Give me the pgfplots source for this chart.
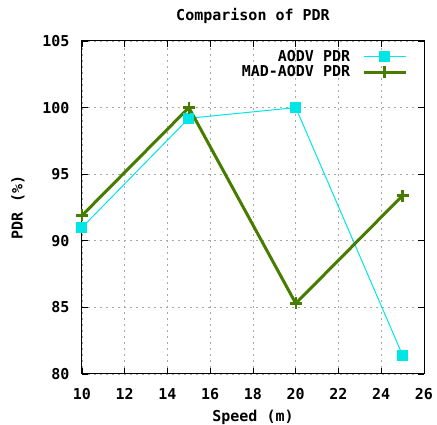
\documentclass[border=0pt]{standalone}
\usepackage{fontspec}
\setmainfont{DejaVu Sans Mono}
\usepackage{pgfplots}
\pgfplotsset{compat=1.18}
\definecolor{aodv}{RGB}{0,230,230}
\definecolor{mad}{RGB}{70,125,0}
\begin{document}
\begin{tikzpicture}
\useasboundingbox (-82pt,-51pt) rectangle (355pt,374pt);
\begin{axis}[
  at={(0,0)}, anchor=south west,
  scale only axis, width=342pt, height=333pt,
  xmin=10, xmax=26, ymin=80, ymax=105,
  xtick={10,12,...,26}, ytick={80,85,...,105},
  tick align=inside, major tick length=6pt,
  tick style={black, line width=0.8pt},
  axis line style={black, line width=1pt},
  grid=major,
  grid style={gray!70, dash pattern=on 2pt off 4pt, line width=0.8pt},
  /pgf/number format/assume math mode=true,
  ticklabel style={font=\fontsize{15}{17}\selectfont\bfseries},
  xticklabel style={yshift=-11pt},
  yticklabel style={xshift=-9pt},
  title={\fontsize{15}{17}\selectfont\bfseries Comparison of PDR},
  title style={at={(axis description cs:0.5,1.057)}, anchor=center, yshift=0pt},
  xlabel={\fontsize{15}{17}\selectfont\bfseries Speed (m)},
  xlabel style={at={(axis description cs:0.5,-0.129)}, anchor=center, yshift=0pt},
  ylabel={\fontsize{15}{17}\selectfont\bfseries PDR (\%)},
  ylabel style={at={(axis description cs:-0.187,0.5)}, anchor=center, rotate=0},
  legend style={draw=none, fill=none, at={(0.96,0.985)}, anchor=north east,
    font=\fontsize{15}{17}\selectfont\bfseries, row sep=-1pt},
  legend cell align=right,
  legend plot pos=right,
  legend image code/.code={
    \draw[#1, mark repeat=2, mark phase=2] plot coordinates {(0pt,0pt) (21pt,0pt) (42pt,0pt)};
  },
]
\addplot[aodv, line width=1pt, mark=square*, mark size=5pt, mark options={solid, fill=aodv, draw=aodv}]
  coordinates {(10,91.0) (15,99.2) (20,100.0) (25,81.4)};
\addlegendentry{AODV PDR\rule{10pt}{0pt}}
\addplot[mad, line width=3pt, mark=+, mark size=6pt, mark options={line width=2.5pt}]
  coordinates {(10,91.9) (15,100.0) (20,85.3) (25,93.4)};
\addlegendentry{MAD-AODV PDR\rule{10pt}{0pt}}
\end{axis}
\end{tikzpicture}
\end{document}
